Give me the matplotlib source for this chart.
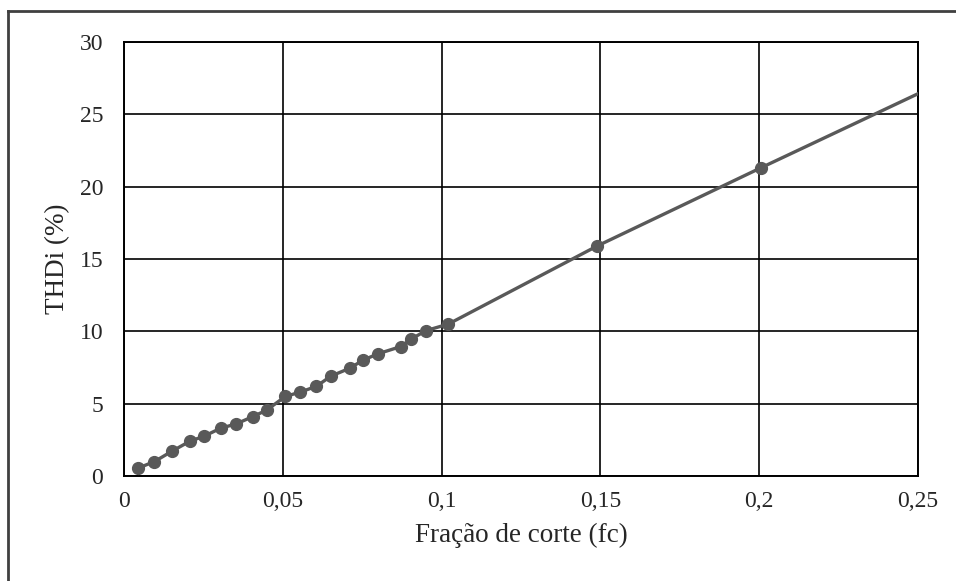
import matplotlib
matplotlib.use("Agg")
import matplotlib.pyplot as plt
from matplotlib.lines import Line2D
from matplotlib.ticker import FuncFormatter

# cut-off fraction (fc) and current THD (%)
fc = [0.0045, 0.0096, 0.0150, 0.0207, 0.0252, 0.0304, 0.0353, 0.0405, 0.0449,
      0.0508, 0.0555, 0.0606, 0.0651, 0.0711, 0.0752, 0.0800, 0.0872, 0.0903,
      0.0951, 0.1021, 0.1490, 0.2005, 0.3000]
thdi = [0.55, 1.0, 1.7, 2.4, 2.75, 3.3, 3.6, 4.1, 4.55,
        5.5, 5.8, 6.2, 6.9, 7.45, 8.0, 8.45, 8.95, 9.45,
        10.05, 10.5, 15.9, 21.3, 31.6]

x_ticks = [0, 0.05, 0.1, 0.15, 0.2, 0.25]
y_ticks = [0, 5, 10, 15, 20, 25, 30]

GREY = "#595959"
INK = "#262626"

plt.rcParams["font.family"] = ["Liberation Serif", "DejaVu Serif"]

fig = plt.figure(figsize=(9.56, 5.81), dpi=100)
ax = fig.add_axes([124 / 956, 105 / 581, 794 / 956, 434 / 581])

ax.plot(fc, thdi, color=GREY, lw=2.4, marker="o", ms=8.5,
        markerfacecolor=GREY, markeredgecolor=GREY, zorder=3)

ax.set_xlim(0, 0.25)
ax.set_ylim(0, 30)
ax.set_xticks(x_ticks)
ax.set_yticks(y_ticks)
ax.xaxis.set_major_formatter(FuncFormatter(lambda v, _: f"{v:g}".replace(".", ",")))
ax.tick_params(length=0, labelsize=17, labelcolor=INK)
ax.tick_params(axis="x", pad=11)
ax.tick_params(axis="y", pad=15)
ax.grid(True, color="black", lw=1.2, zorder=1)
for sp in ax.spines.values():
    sp.set_color("black")
    sp.set_linewidth(1.4)

ax.set_xlabel("Fração de corte (fc)", fontsize=19.5, color=INK, va="center")
ax.set_ylabel("THDi (%)", fontsize=19.5, color=INK, va="center")
ax.xaxis.set_label_coords(0.5, -0.138)
ax.yaxis.set_label_coords(-0.083, 0.5)

# outer chart frame (cropped on the right and bottom)
fig.add_artist(Line2D([8 / 956, 8 / 956], [0, 1 - 11 / 581],
                      transform=fig.transFigure, color="#404040", lw=2))
fig.add_artist(Line2D([8 / 956, 1], [1 - 11 / 581, 1 - 11 / 581],
                      transform=fig.transFigure, color="#404040", lw=2))

fig.savefig("out.png", dpi=100)
